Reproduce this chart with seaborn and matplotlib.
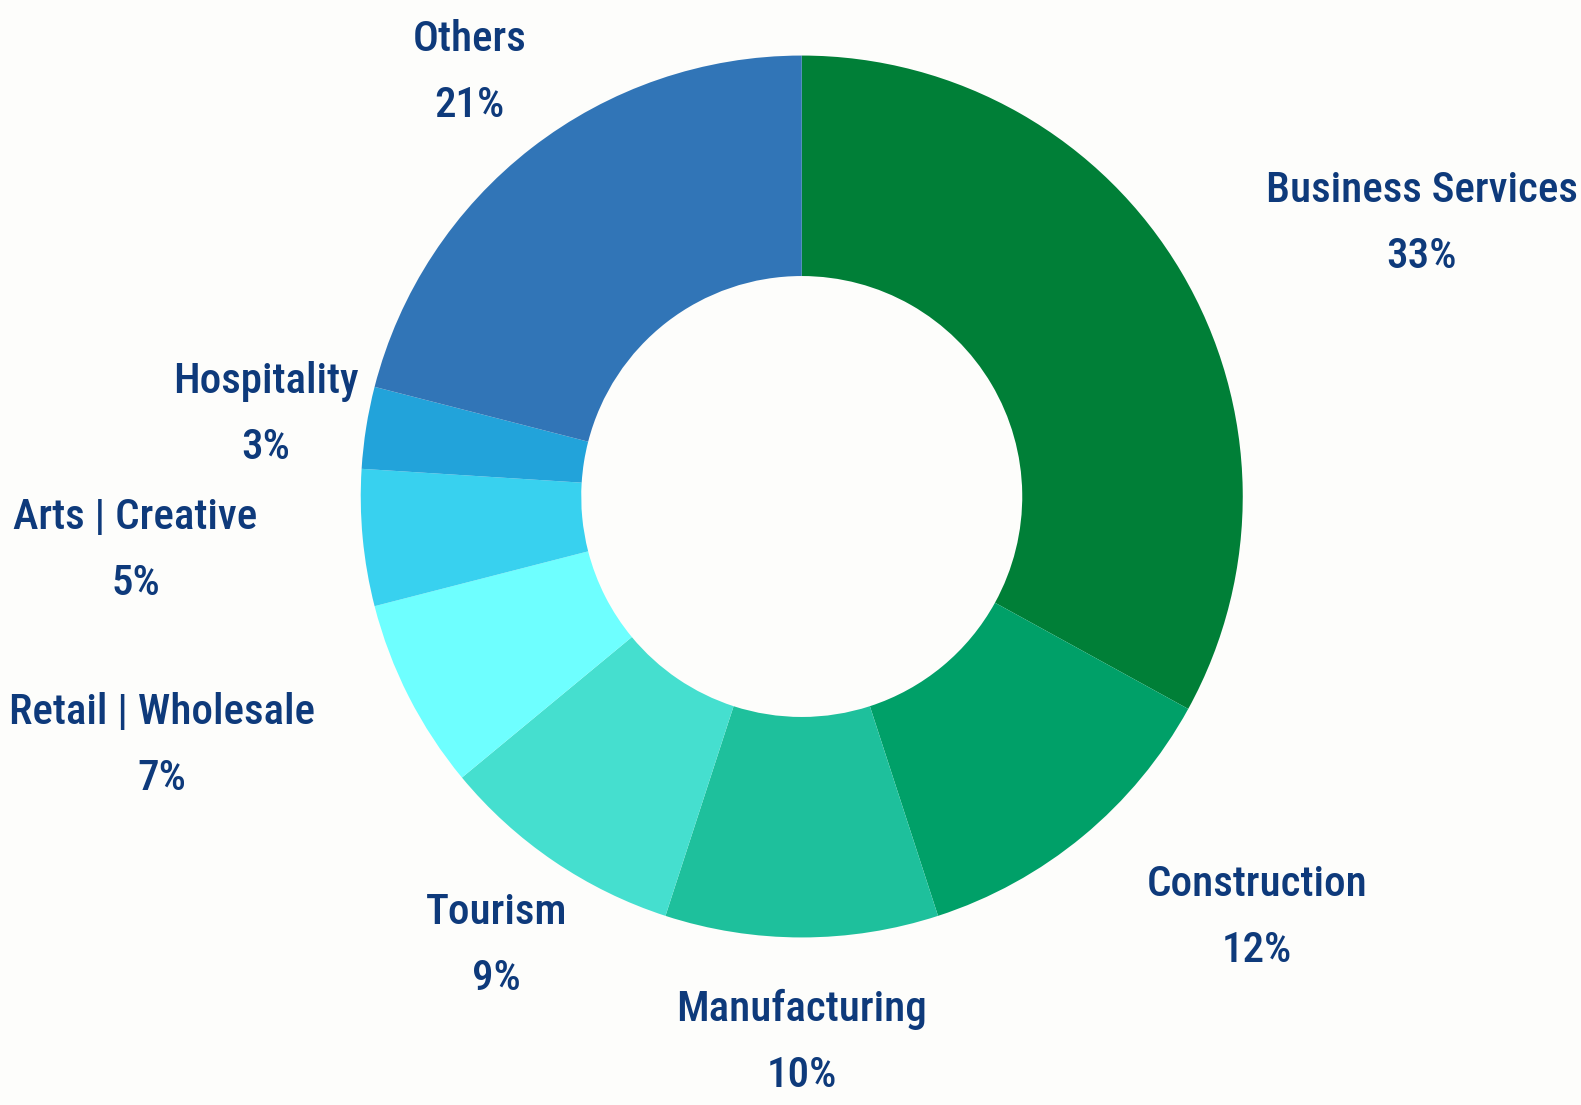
import numpy as np
import matplotlib
matplotlib.use("Agg")
import matplotlib.pyplot as plt
from matplotlib import font_manager
import seaborn as sns

# data, clockwise from 12 o'clock
sectors = ["Business Services", "Construction", "Manufacturing", "Tourism",
           "Retail | Wholesale", "Arts | Creative", "Hospitality", "Others"]
shares = [33, 12, 10, 9, 7, 5, 3, 21]
colors = ["#007F37", "#00A068", "#1EC09C", "#45DFCF",
          "#6EFFFF", "#38D1EF", "#22A3DA", "#3175B7"]

# label centres, in units of the outer radius
label_pos = [(1.406, 0.619), (1.033, -0.955), (0.0, -1.239), (-0.693, -1.019),
             (-1.451, -0.565), (-1.511, -0.123), (-1.216, 0.185), (-0.754, 0.962)]

sns.set_theme(style="white")

# pick a narrow font if one is around
family = "DejaVu Sans"
for cand in ["Roboto Condensed", "Liberation Sans Narrow", "Open Sans Condensed"]:
    try:
        font_manager.findfont(cand, fallback_to_default=False)
        family = cand
        break
    except Exception:
        pass
plt.rcParams['font.family'] = [family, 'DejaVu Sans']
stretch = "condensed"
weight = "medium"

bg = "#FDFDFB"
fig = plt.figure(figsize=(15.81, 11.05), dpi=100, facecolor=bg)
ax = fig.add_axes([0, 0, 1, 1])
ax.set_facecolor(bg)

ax.pie(shares, colors=colors, startangle=90, counterclock=False, radius=1,
       wedgeprops=dict(width=0.5, edgecolor="none", linewidth=0))

ax.set_xlim(-1.818, 1.767)
ax.set_ylim(-1.380, 1.126)
ax.set_aspect("equal", adjustable="datalim")
ax.set_position([0, 0, 1, 1])
ax.axis("off")

# size the font so the widest label is about as wide as in the original
renderer = fig.canvas.get_renderer()
probe = fig.text(0, 0, "Business Services", fontsize=30,
                 fontstretch=stretch, fontweight=weight)
w = probe.get_window_extent(renderer).width
probe.remove()
fs = min(34, 30 * 312 / w)

half_gap = 33 / 441  # half distance between the two lines, radius units
txt_color = "#0E3A7B"
for name, val, (x, y) in zip(sectors, shares, label_pos):
    ax.text(x, y + half_gap, name, ha="center", va="center", fontsize=fs,
            fontstretch=stretch, fontweight=weight, color=txt_color)
    ax.text(x, y - half_gap, f"{val}%", ha="center", va="center", fontsize=fs,
            fontstretch=stretch, fontweight=weight, color=txt_color)

fig.savefig("out.png", dpi=100, facecolor=bg)
